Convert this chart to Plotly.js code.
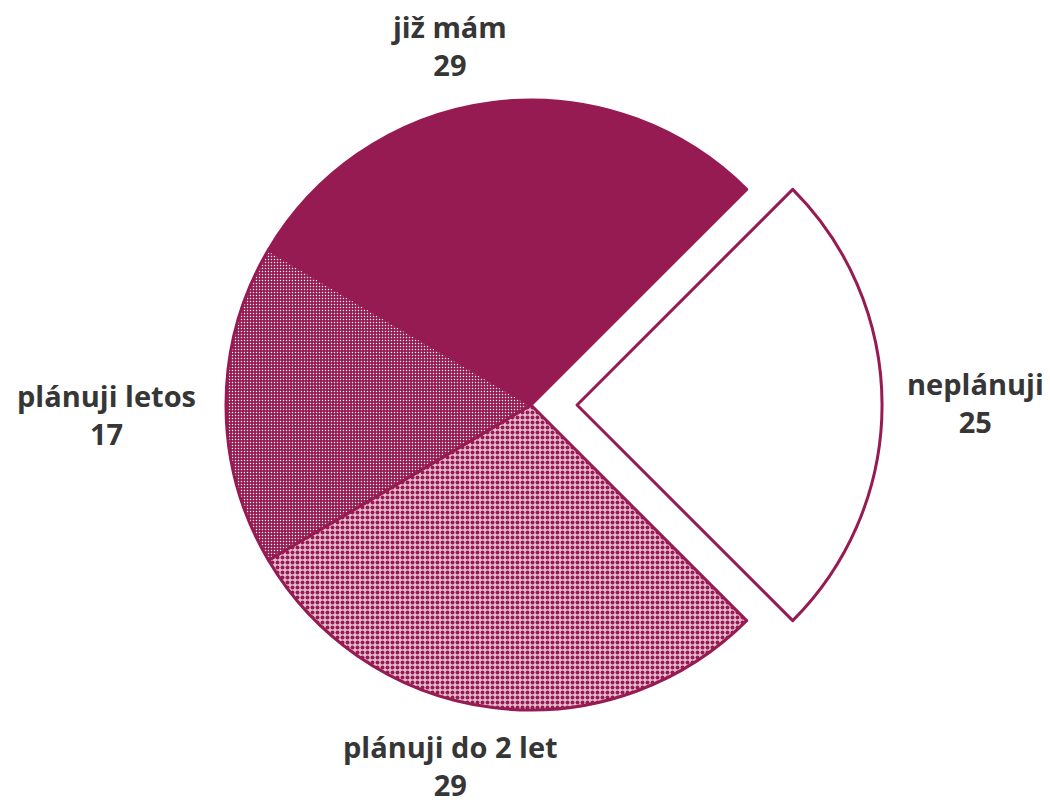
<!DOCTYPE html>
<html><head><meta charset="utf-8">
<script src="https://cdn.plot.ly/plotly-3.0.1.min.js"></script>
<style>html,body{margin:0;padding:0;background:#fff}</style>
</head><body>
<div id="chart" style="width:1050px;height:803px"></div>
<script>
const labels = ["neplánuji", "plánuji do 2 let", "plánuji letos", "již mám"];
const values = [25, 29, 17, 29];
const pulls = [0.151, 0, 0, 0];
// label anchor positions (paper coords) for each slice, in the same order
const labelX = [975/1050, 450/1050, 106/1050, 449/1050];
const labelY = [1-402/803, 1-765/803, 1-415/803, 1-45/803];

const MAG = "#971B53";
const W = 1050, H = 803;
const cx = 531, cy = 405, r = 305;
const half = r*(1+Math.max(...pulls));

const trace = {
  type: "pie",
  labels: labels,
  values: values,
  sort: false,
  direction: "clockwise",
  rotation: 45,
  pull: pulls,
  textinfo: "none",
  hoverinfo: "label+value",
  marker: {
    colors: ["#ffffff", "#ffffff", MAG, MAG],
    line: {color: MAG, width: 3},
    pattern: {
      shape: ["", ".", ".", ""],
      fgcolor: ["#ffffff", MAG, "#ffffff", MAG],
      bgcolor: ["#ffffff", "#e6bccf", MAG, MAG],
      size: [6, 5, 3, 6],
      solidity: [0.3, 0.5, 0.18, 0.3],
      fillmode: "replace"
    }
  },
  domain: {
    x: [(cx-half)/W, (cx+half)/W],
    y: [(H-cy-half)/H, (H-cy+half)/H]
  },
  showlegend: false
};

const annotations = labels.map((l, i) => ({
  text: "<b>" + l + "<br>" + values[i] + "</b>",
  x: labelX[i], y: labelY[i], xref: "paper", yref: "paper",
  xanchor: "center", yanchor: "middle", showarrow: false,
  font: {family: "Open Sans, sans-serif", size: 29, color: "#363636"}
}));

Plotly.newPlot("chart", [trace], {
  width: W, height: H,
  margin: {l: 0, r: 0, t: 0, b: 0},
  paper_bgcolor: "#ffffff",
  showlegend: false,
  annotations: annotations
}, {displayModeBar: false, staticPlot: true});
</script>
</body></html>
